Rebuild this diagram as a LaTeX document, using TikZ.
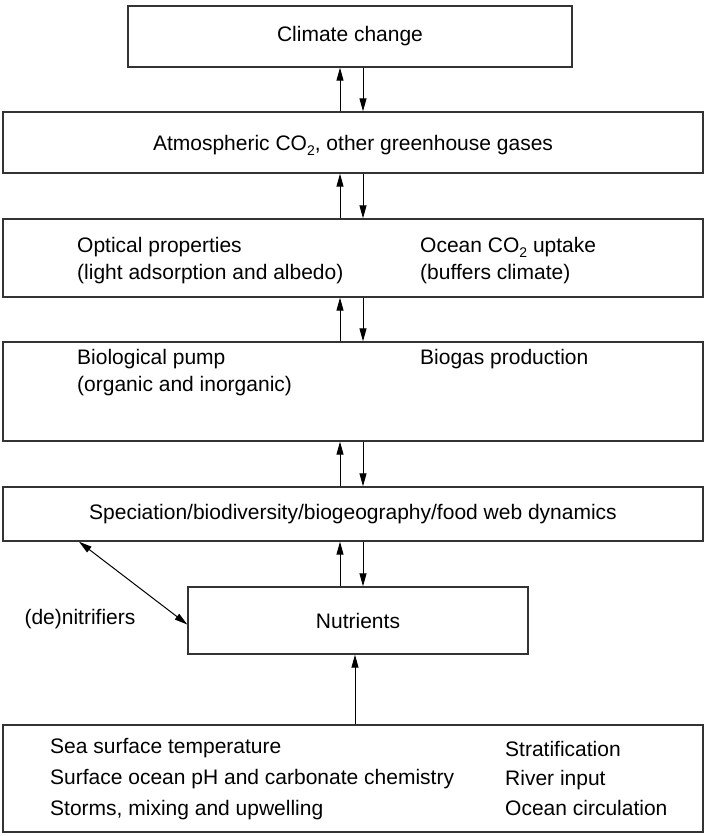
\documentclass[tikz,border=0pt]{standalone}
\usepackage{fontspec}
\setmainfont{Liberation Sans}
\usetikzlibrary{arrows.meta,calc}
\newcommand{\subtwo}{\raisebox{-5pt}{\fontsize{14}{14}\selectfont 2}}
\begin{document}
\begin{tikzpicture}[x=1pt,y=-1pt,
  box/.style={draw=black!80,line width=1.4pt,rectangle,inner sep=0pt},
  lbl/.style={inner sep=0pt,anchor=base west,font=\fontsize{21}{25}\selectfont},
  ctr/.style={inner sep=0pt,font=\fontsize{21}{25}\selectfont},
  arr/.style={line width=1pt,-{Triangle[length=13pt,width=7pt]}},
  darr/.style={line width=1pt,{Triangle[length=13pt,width=7pt]}-{Triangle[length=13pt,width=7pt]}}]
\useasboundingbox (0,0) rectangle (705,836);
\fill[white] (0,0) rectangle (705,836);
\coordinate (ux) at (340,0);
\coordinate (dx) at (363,0);
\coordinate (mx) at (355,0);
\coordinate (nx) at (79,0);
% boxes
\node[box,minimum width=444pt,minimum height=61pt] (b1) at (350,36.5) {};
\node[box,minimum width=700pt,minimum height=61pt] (b2) at (353,142.5) {};
\node[box,minimum width=700pt,minimum height=78pt] (b3) at (353,258) {};
\node[box,minimum width=700pt,minimum height=99pt] (b4) at (353,391.5) {};
\node[box,minimum width=700pt,minimum height=54pt] (b5) at (353,514) {};
\node[box,minimum width=340pt,minimum height=67pt] (nut) at (358,620.5) {};
\node[box,minimum width=700pt,minimum height=107pt] (b6) at (353,778.5) {};
% texts
\node[ctr] (t1) at (b1) {Climate change};
\node[ctr,anchor=base] (t2) at (353,150) {Atmospheric CO\subtwo, other greenhouse gases};
\node[lbl] (t3a) at (77,252) {Optical properties};
\node[lbl] (t3b) at (77,279) {(light adsorption and albedo)};
\node[lbl] (t3c) at (420,252) {Ocean CO\subtwo\ uptake};
\node[lbl] (t3d) at (420,279) {(buffers climate)};
\node[lbl] (t4a) at (77,364) {Biological pump};
\node[lbl] (t4b) at (77,391) {(organic and inorganic)};
\node[lbl] (t4c) at (420,364) {Biogas production};
\node[ctr] (t5) at (b5) {Speciation/biodiversity/biogeography/food web dynamics};
\node[ctr] (tn) at (nut) {Nutrients};
\node[ctr] (tdn) at (80,619) {(de)nitrifiers};
\node[lbl] (t6a) at (50,753) {Sea surface temperature};
\node[lbl] (t6b) at (50,784) {Surface ocean pH and carbonate chemistry};
\node[lbl] (t6c) at (50,815) {Storms, mixing and upwelling};
\node[lbl] (t6d) at (505,756) {Stratification};
\node[lbl] (t6e) at (505,785) {River input};
\node[lbl] (t6f) at (505,815) {Ocean circulation};
% arrows
\draw[arr] (b2.north -| ux) -- (b1.south -| ux);
\draw[arr] (b1.south -| dx) -- (b2.north -| dx);
\draw[arr] (b3.north -| ux) -- (b2.south -| ux);
\draw[arr] (b2.south -| dx) -- (b3.north -| dx);
\draw[arr] (b4.north -| ux) -- (b3.south -| ux);
\draw[arr] (b3.south -| dx) -- (b4.north -| dx);
\draw[arr] (b5.north -| ux) -- (b4.south -| ux);
\draw[arr] (b4.south -| dx) -- (b5.north -| dx);
\draw[arr] (nut.north -| ux) -- (b5.south -| ux);
\draw[arr] (b5.south -| dx) -- (nut.north -| dx);
\draw[arr] (b6.north -| mx) -- (nut.south -| mx);
\draw[darr] (b5.south -| nx) -- ($(nut.west)+(0,4)$);
\end{tikzpicture}
\end{document}
